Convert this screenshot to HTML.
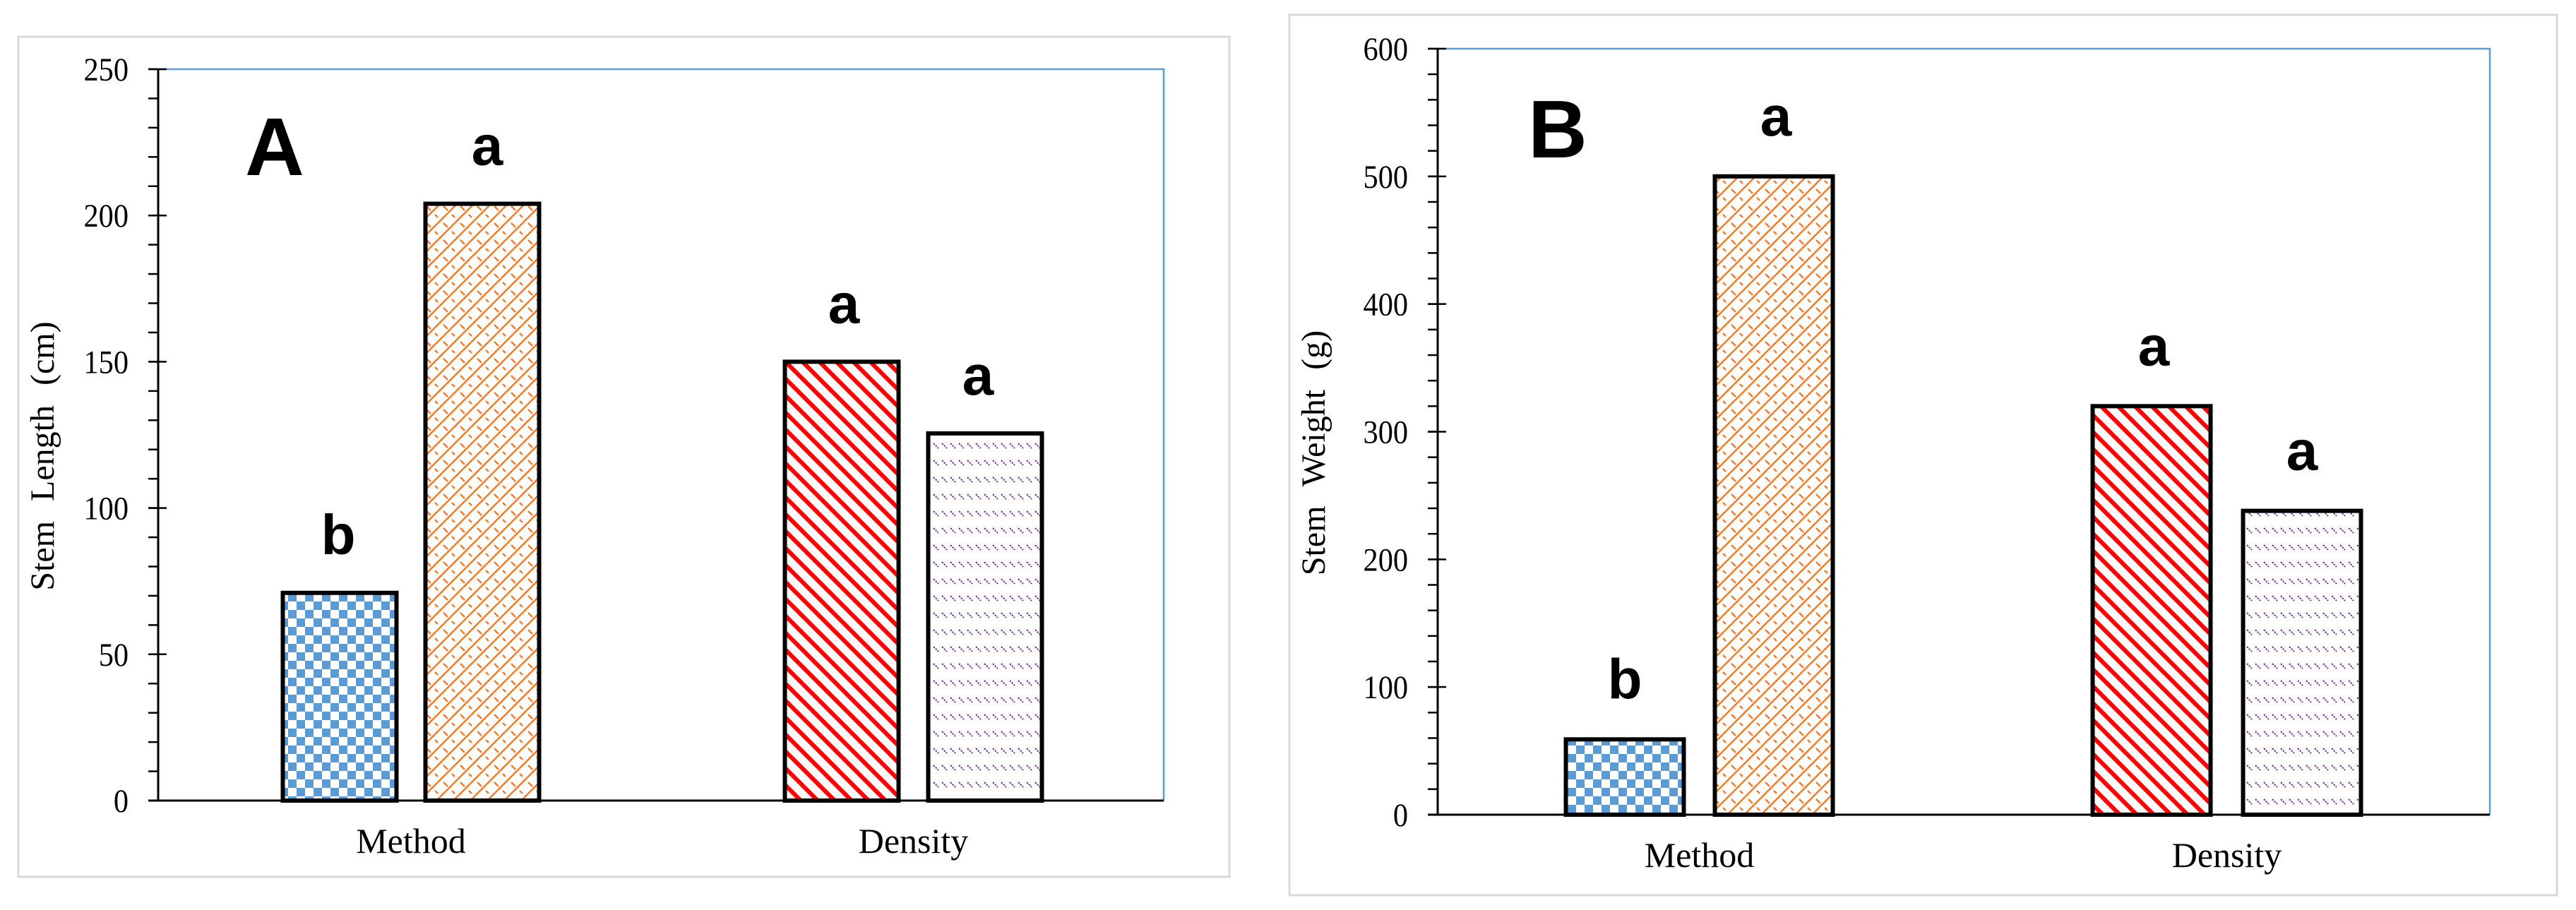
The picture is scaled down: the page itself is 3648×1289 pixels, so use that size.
<!DOCTYPE html>
<html><head><meta charset="utf-8"><style>
html,body{margin:0;padding:0;background:#fff;}
svg{display:block;}
text{font-family:"Liberation Serif",serif;}
.lt{font-family:"Liberation Sans",sans-serif;font-weight:bold;}
</style></head><body>
<svg id="chart" width="3648" height="1289" viewBox="0 0 3648 1289" xmlns="http://www.w3.org/2000/svg">
<defs>
<pattern id="pBlue" width="24" height="24" patternUnits="userSpaceOnUse">
<rect width="24" height="24" fill="#fff"/><rect width="12" height="12" fill="#5b9bd5"/><rect x="12" y="12" width="12" height="12" fill="#5b9bd5"/>
</pattern>
<pattern id="pOrange" width="24" height="24" patternUnits="userSpaceOnUse">
<rect width="24" height="24" fill="#fff"/><path d="M0,24 L24,0 M-6,6 L6,-6 M18,30 L30,18 M4,4 L10,10 M16,16 L20,20" stroke="#ed7d31" stroke-width="2.5" fill="none"/>
</pattern>
<pattern id="pRed" width="24" height="24" patternUnits="userSpaceOnUse">
<rect width="24" height="24" fill="#fff"/><path d="M0,0 L24,24 M-12,12 L12,36 M12,-12 L36,12" stroke="#ff0000" stroke-width="6" fill="none"/>
</pattern>
<pattern id="pPurple" width="12" height="24" patternUnits="userSpaceOnUse">
<rect width="12" height="24" fill="#fff"/><path d="M2,4 L9,11" stroke="#7030a0" stroke-width="2" stroke-dasharray="2.5,1.5" fill="none"/>
</pattern>
</defs>
<g id="panelA"></g>
<g id="panelB"></g>
</svg>
<script>
const categories = ["Method", "Density"];
const seriesA = [71, 204, 150, 125.5];
const lettersA = ["b", "a", "a", "a"];
const ticksA = [0, 50, 100, 150, 200, 250];
const seriesB = [59, 500, 320, 238];
const lettersB = ["b", "a", "a", "a"];
const ticksB = [0, 100, 200, 300, 400, 500, 600];
const fills = ["url(#pBlue)", "url(#pOrange)", "url(#pRed)", "url(#pPurple)"];
const barNames = ["method-bar-1", "method-bar-2", "density-bar-1", "density-bar-2"];

const NS = "http://www.w3.org/2000/svg";
function mk(parent, tag, attrs, text) {
  const e = document.createElementNS(NS, tag);
  for (const k in attrs) e.setAttribute(k, attrs[k]);
  if (text !== undefined) e.textContent = text;
  parent.appendChild(e);
  return e;
}

function drawPanel(g, cfg) {
  const frame = mk(g, "rect", {x: cfg.fx, y: cfg.fy, width: cfg.fw, height: cfg.fh, fill: "#fff", stroke: "#d9d9d9", "stroke-width": 3});
  
  
  const max = cfg.ticks[cfg.ticks.length - 1];
  const y = v => cfg.bottom - (v / max) * (cfg.bottom - cfg.top);
  const border = mk(g, "path", {d: `M${cfg.left},${cfg.top} H${cfg.right} V${cfg.bottom}`, stroke: "#5b9bd5", "stroke-width": 2.5, fill: "none"});
  
  
  const step = cfg.ticks[1] - cfg.ticks[0];
  for (let v = 0; v <= max + 1e-9; v += step / 5) {
    const t = mk(g, "line", {x1: cfg.left - 14, x2: cfg.left, y1: y(v), y2: y(v), stroke: "#000", "stroke-width": 2.5});
    
    
  }
  cfg.ticks.forEach(v => {
    const t = mk(g, "line", {x1: cfg.left - 14, x2: cfg.left + 12, y1: y(v), y2: y(v), stroke: "#000", "stroke-width": 2.5});
    
    
    const ax = cfg.left - 42;
    const l = mk(g, "text", {x: ax, y: y(v) + 16, "text-anchor": "end", "font-size": 47, transform: `translate(${ax},0) scale(0.9,1) translate(${-ax},0)`}, String(v));
    
    
  });
  const yaxis = mk(g, "line", {x1: cfg.left, x2: cfg.left, y1: cfg.top, y2: cfg.bottom, stroke: "#000", "stroke-width": 3});
  
  
  const bw = cfg.bw;
  cfg.values.forEach((v, i) => {
    const cx = cfg.barCenters[i];
    const r = mk(g, "rect", {x: cx - bw / 2, y: y(v), width: bw, height: cfg.bottom - y(v), fill: fills[i], stroke: "#000", "stroke-width": 6});
    
    
    const t = mk(g, "text", {x: cx + cfg.letterDx[i], y: y(v) - cfg.letterGap, "text-anchor": "middle", "font-size": 80, class: "lt"}, cfg.letters[i]);
    
    
  });
  const xaxis = mk(g, "line", {x1: cfg.left - 14, x2: cfg.right, y1: cfg.bottom, y2: cfg.bottom, stroke: "#000", "stroke-width": 3});
  
  
  categories.forEach((c, i) => {
    const cx = (cfg.barCenters[2 * i] + cfg.barCenters[2 * i + 1]) / 2;
    const t = mk(g, "text", {x: cx, y: cfg.bottom + 74, "text-anchor": "middle", "font-size": 50}, c);
    
    
  });
  const tt = mk(g, "text", {x: 0, y: 0, "text-anchor": "middle", "font-size": 48, transform: `translate(${cfg.titleX},${(cfg.top + cfg.bottom) / 2 + 30}) rotate(-90)`, "word-spacing": 16}, cfg.title);
  
  
  const pl = mk(g, "text", {x: cfg.plX, y: cfg.plY, "font-size": 116, class: "lt"}, cfg.panel);
  
  
}

drawPanel(document.getElementById("panelA"), {
  fx: 26, fy: 52, fw: 1715, fh: 1190,
  left: 224, right: 1648, top: 98, bottom: 1134,
  ticks: ticksA, values: seriesA, letters: lettersA,
  barCenters: [481, 683, 1192, 1395], bw: 161, letterGap: 55, letterDx: [-2, 7, 3, -10],
  title: "Stem Length (cm)", titleX: 76, panel: "A", plX: 347, plY: 248
});
drawPanel(document.getElementById("panelB"), {
  fx: 1826, fy: 21, fw: 1795, fh: 1247,
  left: 2036, right: 3526, top: 69, bottom: 1154,
  ticks: ticksB, values: seriesB, letters: lettersB,
  barCenters: [2301, 2512, 3047, 3260], bw: 167, letterGap: 58, letterDx: [0, 3, 3, 0],
  title: "Stem Weight (g)", titleX: 1876, panel: "B", plX: 2164, plY: 223
});
</script>
</body></html>
